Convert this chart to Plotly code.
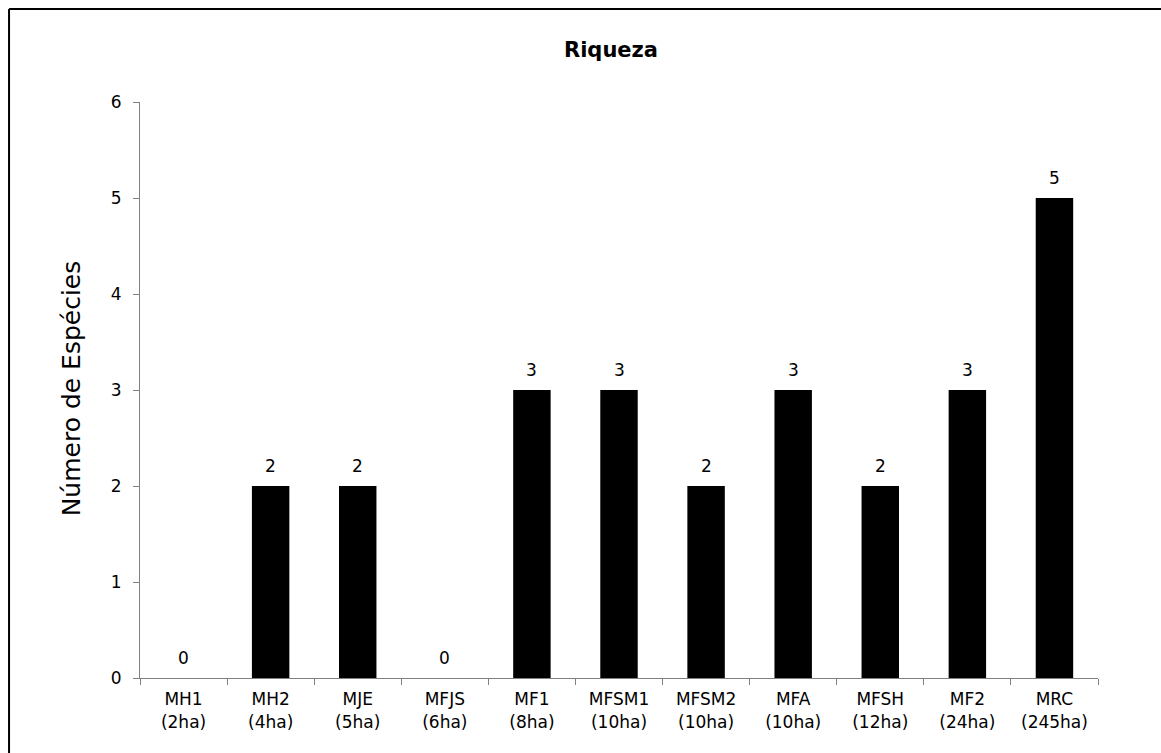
import plotly.graph_objects as go

# Fragment sites and their area, with species richness per site
sites = ["MH1", "MH2", "MJE", "MFJS", "MF1", "MFSM1", "MFSM2", "MFA", "MFSH", "MF2", "MRC"]
areas = ["2ha", "4ha", "5ha", "6ha", "8ha", "10ha", "10ha", "10ha", "12ha", "24ha", "245ha"]
riqueza = [0, 2, 2, 0, 3, 3, 2, 3, 2, 3, 5]

labels = [f"{s}<br>({a})" for s, a in zip(sites, areas)]

FONT = "DejaVu Sans"
AXIS_GREY = "#808080"

fig = go.Figure()
fig.add_trace(go.Bar(
    x=labels,
    y=riqueza,
    marker=dict(color="black", line=dict(width=0)),
    showlegend=False,
))

# value labels above each bar
annotations = [
    dict(x=lab, y=v, xref="x", yref="y", text=str(v), showarrow=False,
         yanchor="bottom", yshift=8, font=dict(family=FONT, size=17, color="black"))
    for lab, v in zip(labels, riqueza)
]

# rotated y-axis title
annotations.append(dict(
    x=-0.0715, y=0.502, xref="paper", yref="paper", text="Número de Espécies",
    textangle=-90, showarrow=False, xanchor="center", yanchor="middle",
    font=dict(family=FONT, size=25, color="black"),
))

fig.update_layout(
    width=1161,
    height=753,
    margin=dict(l=140, r=63, t=102, b=75),
    paper_bgcolor="white",
    plot_bgcolor="white",
    bargap=0.57,
    font=dict(family=FONT, size=17, color="black"),
    title=dict(
        text="<b>Riqueza</b>",
        x=611 / 1161, xref="container", xanchor="center",
        y=1 - 50 / 753, yref="container", yanchor="middle",
        font=dict(family=FONT, size=21, color="black"),
    ),
    xaxis=dict(
        type="category",
        showline=True, linecolor=AXIS_GREY, linewidth=1,
        ticks="outside", tickson="boundaries", ticklen=6, tickcolor=AXIS_GREY,
        showgrid=False, zeroline=False,
        ticklabelstandoff=6,
        tickfont=dict(family=FONT, size=17, color="black"),
    ),
    yaxis=dict(
        range=[0, 6], dtick=1,
        showline=True, linecolor=AXIS_GREY, linewidth=1,
        ticks="outside", ticklen=6, tickcolor=AXIS_GREY,
        showgrid=False, zeroline=False,
        ticklabelstandoff=8,
        tickfont=dict(family=FONT, size=17, color="black"),
    ),
    annotations=annotations,
    shapes=[
        # chart frame: left and top edges
        dict(type="line", xref="paper", yref="paper",
             x0=-0.1367, x1=-0.1367, y0=-1, y1=1.1615,
             line=dict(color="black", width=2)),
        dict(type="line", xref="paper", yref="paper",
             x0=-0.1367, x1=2, y0=1.1615, y1=1.1615,
             line=dict(color="black", width=2)),
    ],
)

fig.write_html("out.html")
